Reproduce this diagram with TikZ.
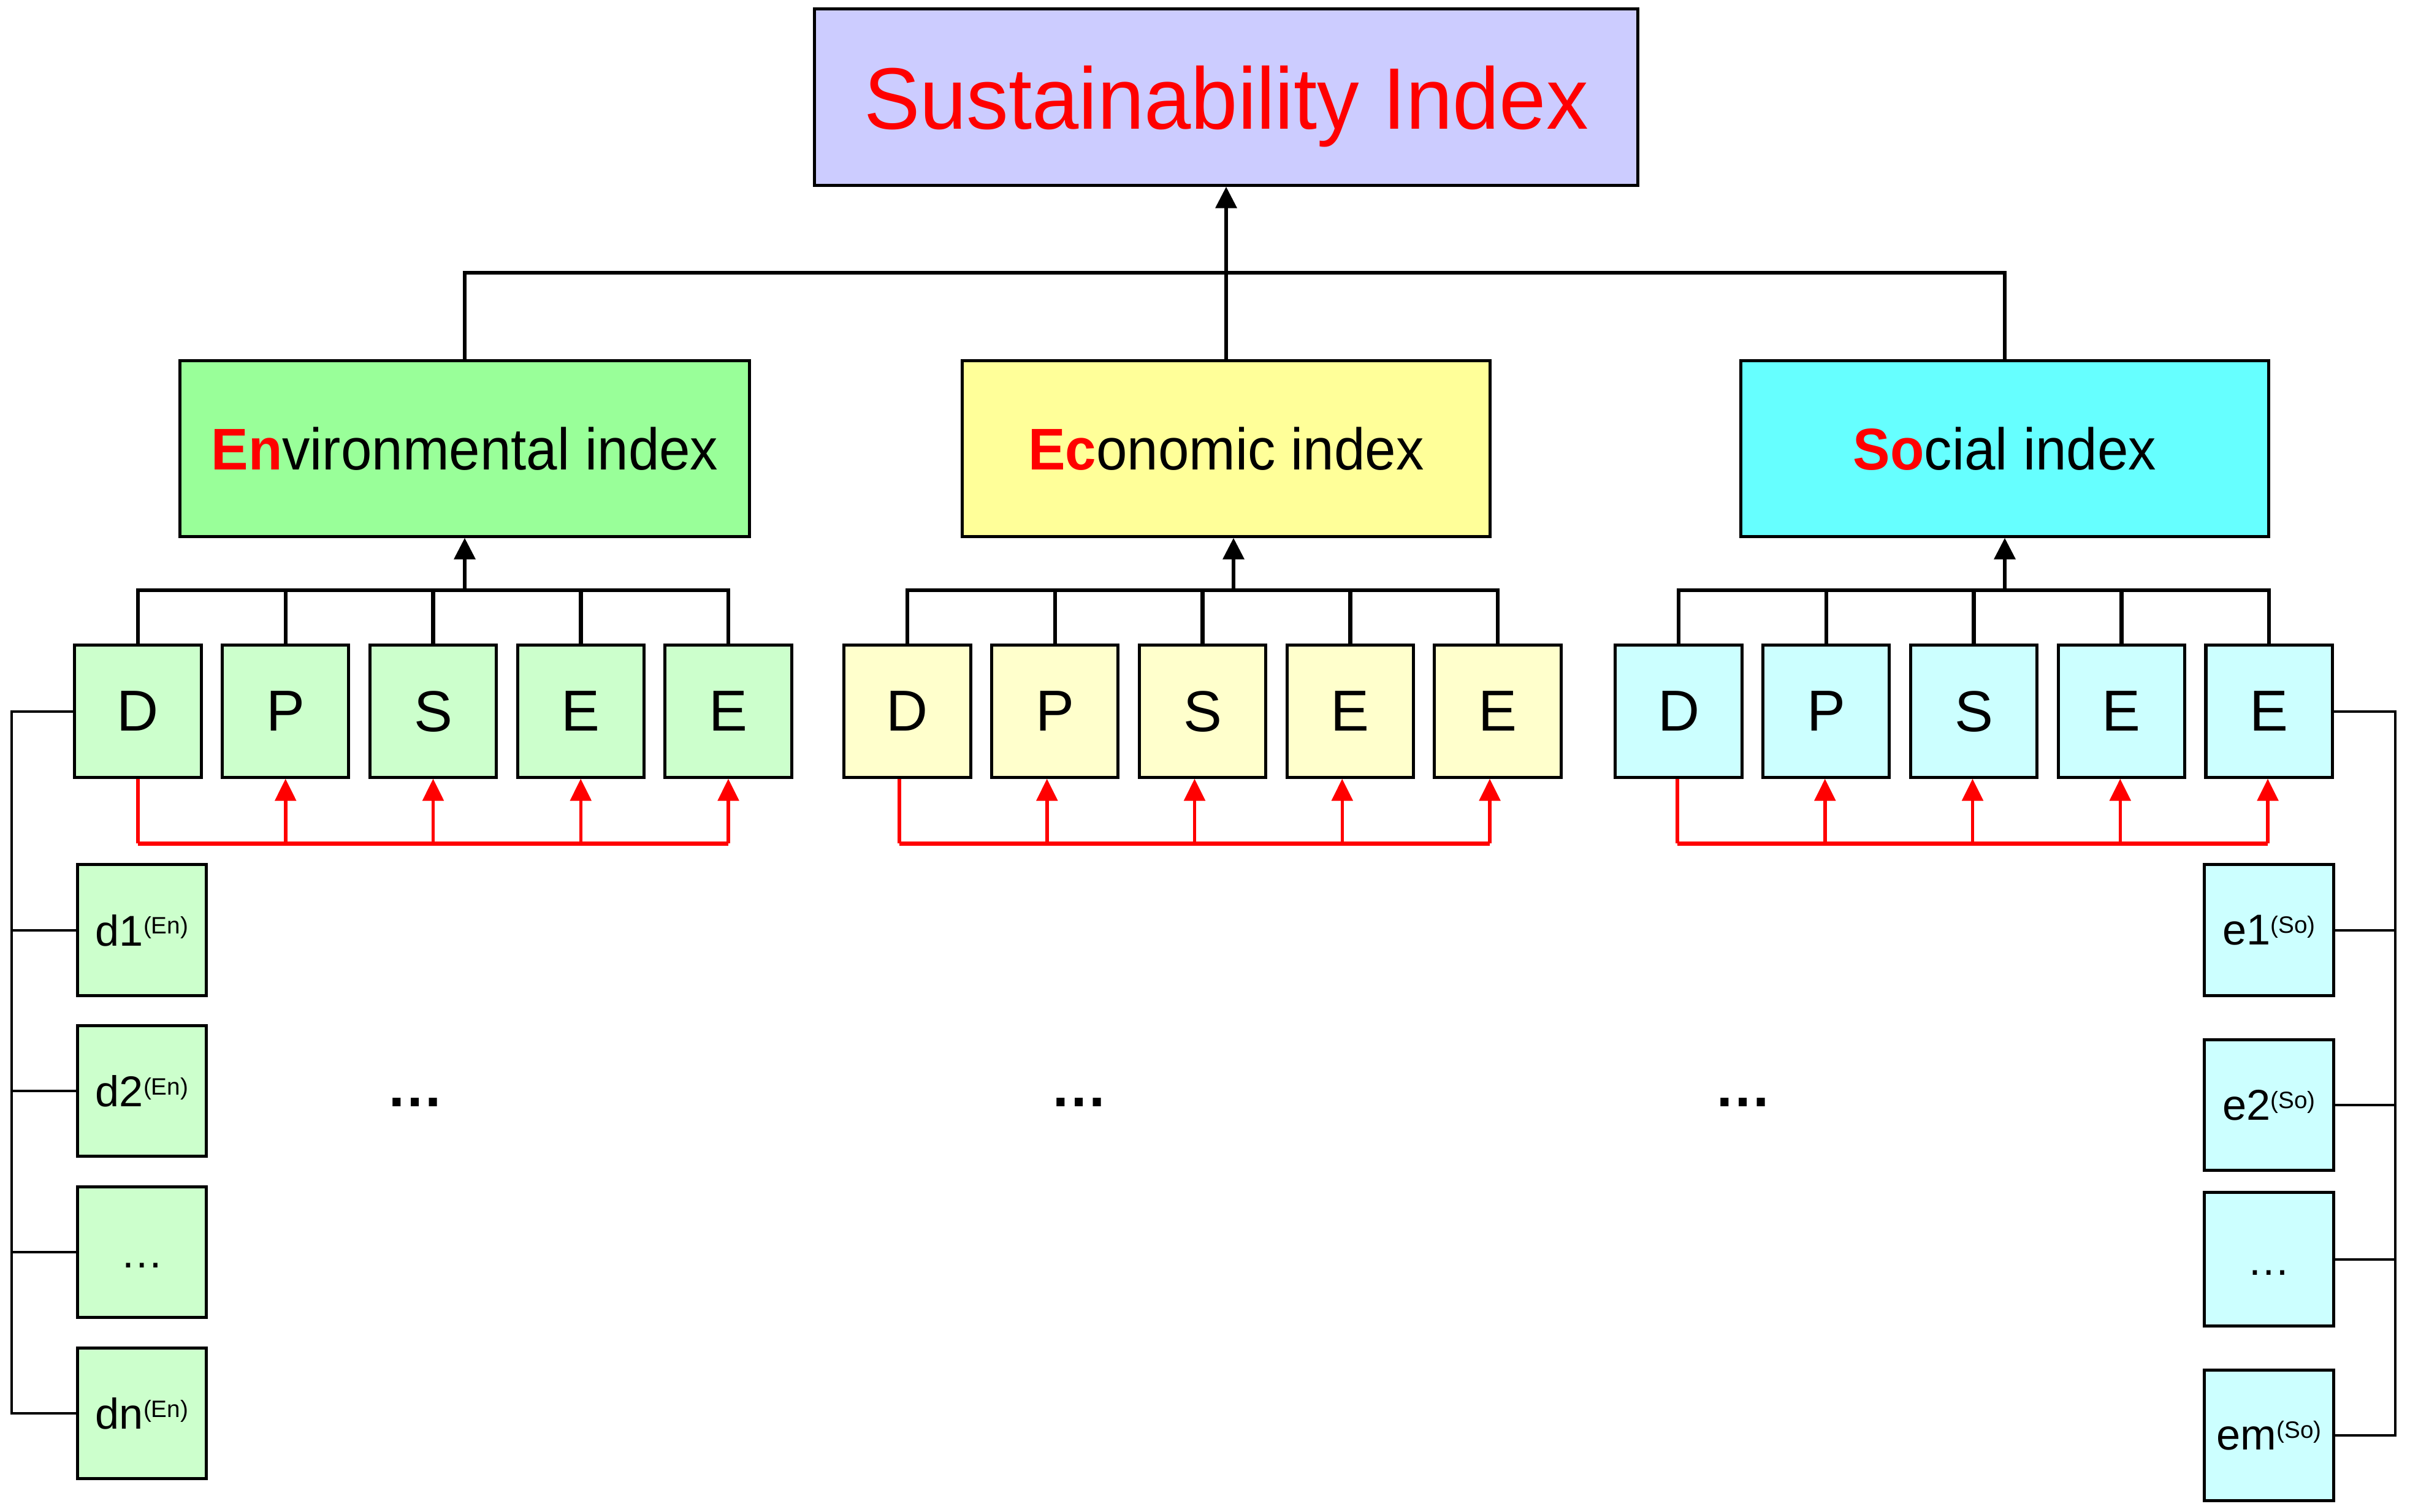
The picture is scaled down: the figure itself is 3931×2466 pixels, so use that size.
\documentclass[tikz,border=0pt]{standalone}
\usepackage{fontspec}
\setmainfont{Liberation Sans}
\usepackage{graphicx}
\usetikzlibrary{arrows.meta}
\definecolor{susfill}{RGB}{204,204,255}
\definecolor{envfill}{RGB}{153,255,153}
\definecolor{ecofill}{RGB}{255,255,153}
\definecolor{socfill}{RGB}{102,255,255}
\definecolor{envlite}{RGB}{204,255,204}
\definecolor{ecolite}{RGB}{255,255,204}
\definecolor{soclite}{RGB}{204,255,255}
\definecolor{myred}{RGB}{255,0,0}
\newcommand\mysup[1]{\raisebox{5.5pt}{\fontsize{11}{12}\selectfont #1}}
\tikzset{
 box/.style={draw=black, line width=0.05cm, inner sep=0pt, text depth=0pt, anchor=center},
 susbox/.style={box, fill=susfill, minimum width=13.42cm, minimum height=2.87cm, font=\fontsize{40.5}{44}\selectfont, text=myred},
 midbox/.style={box, minimum width=8.6cm, minimum height=2.86cm, font=\fontsize{27.3}{30}\selectfont},
 letterbox/.style={box, minimum width=2.06cm, minimum height=2.15cm, font=\fontsize{26.8}{30}\selectfont},
 indbox/.style={box, minimum width=2.1cm, minimum height=2.13cm, font=\fontsize{20}{22}\selectfont},
 conn/.style={line width=0.065cm},
 thinconn/.style={line width=0.04cm},
 arr/.style={conn, -{Triangle[length=0.35cm, width=0.34cm]}},
 redln/.style={myred, line width=0.055cm},
 redbar/.style={myred, line width=0.07cm},
 redarr/.style={redln, -{Triangle[length=0.36cm, width=0.34cm]}},
 bigdots/.style={font=\fontsize{26.5}{30}\selectfont\bfseries, anchor=base, inner sep=0pt},
}
\begin{document}
\begin{tikzpicture}[x=0.01cm, y=-0.01cm]
\useasboundingbox (0,0) rectangle (3931,2466);

% top
\node[susbox] (sus) at (2000,158.5) {\scalebox{0.963}[1]{Sustainability Index}};

% middle level
\node[midbox, fill=envfill, minimum width=9.28cm] (env) at (758,732) {\scalebox{0.945}[1]{\textbf{\color{myred}En}vironmental index}};
\node[midbox, fill=ecofill] (eco) at (2000,732) {\scalebox{0.945}[1]{\textbf{\color{myred}Ec}onomic index}};
\node[midbox, fill=socfill] (soc) at (3270,732) {\scalebox{0.945}[1]{\textbf{\color{myred}So}cial index}};

\coordinate (topbar) at (2000,445);
\draw[conn] (env.north) -- (env.north |- topbar) -- (soc.north |- topbar) -- (soc.north);
\draw[arr] (eco.north) -- (sus.south);

% DPSEE boxes
\foreach \g/\fc/\x in {en/envlite/225, ec/ecolite/1480, so/soclite/2738} {
  \foreach \l [count=\i from 0] in {D,P,S,E,E} {
    \node[letterbox, fill=\fc] (\g\i) at ({\x+240.75*\i},1160.5) {\l};
  }
}

% group bars and arrows
\coordinate (enbar) at (758,963);
\coordinate (ecbar) at (2012,963);
\coordinate (sobar) at (3270,963);
\foreach \g/\m in {en/env, ec/eco, so/soc} {
  \draw[conn] (\g0.north) -- (\g0.north |- \g bar) -- (\g4.north |- \g bar) -- (\g4.north);
  \foreach \i in {1,2,3} \draw[conn] (\g\i.north) -- (\g\i.north |- \g bar);
  \draw[arr] (\g bar) -- (\g bar |- \m.south);
}

% red feedback lines
\foreach \g/\dx in {en/0, ec/-13, so/-2} {
  \foreach \i in {0,...,4} \path (\g\i.south) ++(\dx,0) coordinate (\g s\i);
  \coordinate (\g red) at (0,1376);
  \draw[redln] (\g s0) -- (\g s0 |- \g red);
  \draw[redbar] (\g s0 |- \g red) -- (\g s4 |- \g red);
  \foreach \i in {1,...,4} \draw[redarr] (\g s\i |- \g red) -- (\g s\i);
}

% left indicator boxes
\node[indbox, fill=envlite] (d1) at (231.5,1517.5) {d1\mysup{(En)}};
\node[indbox, fill=envlite] (d2) at (231.5,1780) {d2\mysup{(En)}};
\node[indbox, fill=envlite] (ddots) at (231.5,2043) {\vphantom{d}…};
\node[indbox, fill=envlite] (dn) at (231.5,2306) {dn\mysup{(En)}};
\coordinate (lx) at (19,0);
\draw[thinconn] (en0.west) -- (en0.west -| lx) -- (dn.west -| lx) -- (dn.west);
\foreach \n in {d1,d2,ddots} \draw[thinconn] (\n.west) -- (\n.west -| lx);

% right indicator boxes
\node[indbox, fill=soclite] (e1) at (3701,1517.5) {e1\mysup{(So)}};
\node[indbox, fill=soclite] (e2) at (3701,1803) {e2\mysup{(So)}};
\node[indbox, fill=soclite, minimum height=2.17cm] (edots) at (3701,2054.5) {\vphantom{d}…};
\node[indbox, fill=soclite] (em) at (3701,2342) {em\mysup{(So)}};
\coordinate (rx) at (3907,0);
\draw[thinconn] (so4.east) -- (so4.east -| rx) -- (em.east -| rx) -- (em.east);
\foreach \n in {e1,e2,edots} \draw[thinconn] (\n.east) -- (\n.east -| rx);

% ellipses between groups
\node[bigdots] (gapA) at (677,1805) {…};
\node[bigdots] (gapB) at (1760,1805) {…};
\node[bigdots] (gapC) at (2843,1805) {…};
\end{tikzpicture}
\end{document}
